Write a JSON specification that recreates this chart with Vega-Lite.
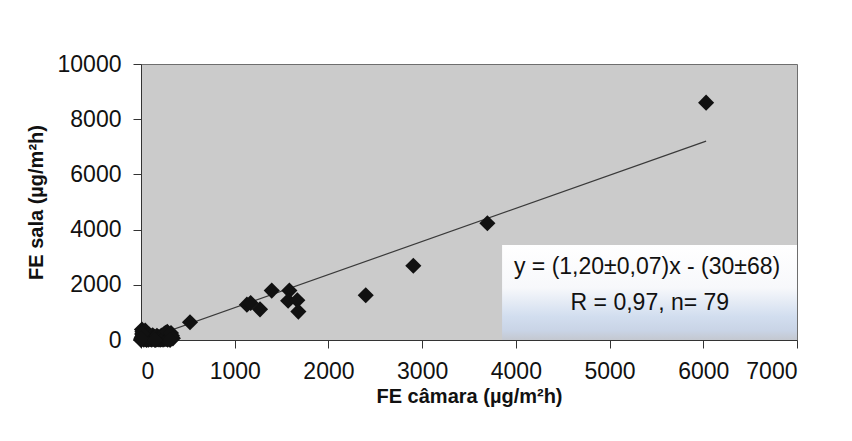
{
  "$schema": "https://vega.github.io/schema/vega-lite/v6.json",
  "autosize": "none",
  "width": 656,
  "height": 276,
  "padding": {"left": 141, "top": 64, "right": 55, "bottom": 101},
  "background": "white",
  "config": {
    "view": {"fill": "#cbcbcb", "stroke": "#6e6e6e", "strokeWidth": 1},
    "font": "Liberation Sans",
    "axis": {
      "grid": false,
      "domainColor": "#333333",
      "tickColor": "#333333",
      "tickSize": 8,
      "labelFont": "Liberation Sans",
      "labelFontSize": 23,
      "labelColor": "#111111",
      "titleFont": "Liberation Sans",
      "titleFontSize": 20,
      "titleFontWeight": "bold",
      "titleColor": "#111111"
    }
  },
  "datasets": {
    "points": [
      {"camara": 0, "sala": 0}, {"camara": 5, "sala": 20}, {"camara": 10, "sala": 380}, {"camara": 15, "sala": 300},
      {"camara": 20, "sala": 150}, {"camara": 25, "sala": 60}, {"camara": 30, "sala": 10}, {"camara": 35, "sala": 250},
      {"camara": 40, "sala": 90}, {"camara": 45, "sala": 340}, {"camara": 50, "sala": 30}, {"camara": 55, "sala": 180},
      {"camara": 60, "sala": 5}, {"camara": 65, "sala": 120}, {"camara": 70, "sala": 40}, {"camara": 75, "sala": 80},
      {"camara": 80, "sala": 15}, {"camara": 85, "sala": 200}, {"camara": 90, "sala": 50}, {"camara": 95, "sala": 100},
      {"camara": 100, "sala": 25}, {"camara": 105, "sala": 140}, {"camara": 110, "sala": 60}, {"camara": 115, "sala": 10},
      {"camara": 120, "sala": 90}, {"camara": 125, "sala": 170}, {"camara": 130, "sala": 35}, {"camara": 135, "sala": 70},
      {"camara": 140, "sala": 120}, {"camara": 145, "sala": 20}, {"camara": 150, "sala": 50}, {"camara": 155, "sala": 100},
      {"camara": 160, "sala": 15}, {"camara": 165, "sala": 80}, {"camara": 170, "sala": 150}, {"camara": 175, "sala": 30},
      {"camara": 180, "sala": 60}, {"camara": 185, "sala": 110}, {"camara": 190, "sala": 20}, {"camara": 195, "sala": 45},
      {"camara": 200, "sala": 90}, {"camara": 205, "sala": 10}, {"camara": 210, "sala": 130}, {"camara": 215, "sala": 55},
      {"camara": 220, "sala": 30}, {"camara": 225, "sala": 170}, {"camara": 230, "sala": 80}, {"camara": 235, "sala": 15},
      {"camara": 240, "sala": 120}, {"camara": 245, "sala": 50}, {"camara": 250, "sala": 230}, {"camara": 255, "sala": 25},
      {"camara": 260, "sala": 90}, {"camara": 265, "sala": 260}, {"camara": 270, "sala": 40}, {"camara": 275, "sala": 150},
      {"camara": 280, "sala": 300}, {"camara": 285, "sala": 10}, {"camara": 330, "sala": 150}, {"camara": 320, "sala": 250},
      {"camara": 340, "sala": 60}, {"camara": 8, "sala": 100}, {"camara": 12, "sala": 220}, {"camara": 3, "sala": 45},
      {"camara": 310, "sala": 0}, {"camara": 150, "sala": 0},
      {"camara": 523, "sala": 641}, {"camara": 1130, "sala": 1280}, {"camara": 1170, "sala": 1340},
      {"camara": 1270, "sala": 1110}, {"camara": 1395, "sala": 1790}, {"camara": 1583, "sala": 1790},
      {"camara": 1570, "sala": 1420}, {"camara": 1668, "sala": 1440}, {"camara": 1679, "sala": 1030},
      {"camara": 2398, "sala": 1620}, {"camara": 2906, "sala": 2690}, {"camara": 3696, "sala": 4228},
      {"camara": 6030, "sala": 8600}
    ],
    "fit": [
      {"camara": 0, "sala": -30},
      {"camara": 6030, "sala": 7206}
    ],
    "notes": [
      {"label": "y = (1,20±0,07)x - (30±68)", "camara": 5400, "sala": 2390},
      {"label": "R = 0,97, n= 79", "camara": 5430, "sala": 1100}
    ],
    "box": [
      {"x0": 3853, "x1": 7000, "y0": 0, "y1": 3440}
    ]
  },
  "encoding": {
    "x": {
      "field": "camara", "type": "quantitative",
      "scale": {"domain": [0, 7000], "nice": false},
      "axis": {"values": [0, 1000, 2000, 3000, 4000, 5000, 6000, 7000], "format": "d", "labelPadding": 12,
               "title": "FE câmara (µg/m²h)", "titleY": 62, "titleBaseline": "alphabetic"}
    },
    "y": {
      "field": "sala", "type": "quantitative",
      "scale": {"domain": [0, 10000], "nice": false},
      "axis": {"values": [0, 2000, 4000, 6000, 8000, 10000], "format": "d", "labelPadding": 12,
               "title": "FE sala (µg/m²h)", "titleX": -99, "titleBaseline": "alphabetic"}
    }
  },
  "layer": [
    {
      "data": {"name": "box"},
      "mark": {
        "type": "rect",
        "fill": {
          "gradient": "linear", "x1": 0, "y1": 0, "x2": 0, "y2": 1,
          "stops": [
            {"offset": 0, "color": "#ffffff"},
            {"offset": 0.45, "color": "#f7f8fb"},
            {"offset": 0.75, "color": "#d2deef"},
            {"offset": 0.9, "color": "#c9d4e6"},
            {"offset": 1, "color": "#c4c8d0"}
          ]
        },
        "fillOpacity": 1
      },
      "encoding": {
        "x": {"field": "x0", "type": "quantitative"},
        "x2": {"field": "x1"},
        "y": {"field": "y1", "type": "quantitative"},
        "y2": {"field": "y0"}
      }
    },
    {
      "data": {"name": "fit"},
      "mark": {"type": "line", "color": "#3a3a3a", "strokeWidth": 1.2, "clip": true}
    },
    {
      "data": {"name": "points"},
      "mark": {"type": "point", "shape": "diamond", "filled": true, "color": "#111111", "size": 260, "opacity": 1}
    },
    {
      "data": {"name": "notes"},
      "mark": {"type": "text", "font": "Liberation Sans", "fontSize": 23, "color": "#111111", "align": "center", "baseline": "alphabetic"},
      "encoding": {"text": {"field": "label"}}
    }
  ]
}
